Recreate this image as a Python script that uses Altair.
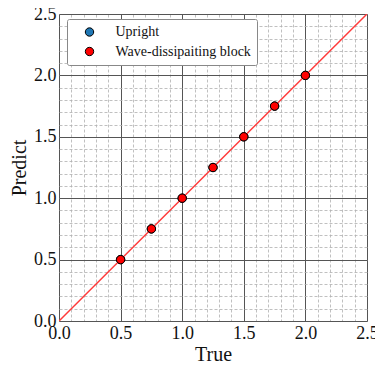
import altair as alt
import pandas as pd

true_vals = [0.5, 0.75, 1.0, 1.25, 1.5, 1.75, 2.0]
upright_pred = [0.5, 0.75, 1.0, 1.25, 1.5, 1.75, 2.0]
wave_pred = [0.5, 0.75, 1.0, 1.25, 1.5, 1.75, 2.0]
series = ["Upright", "Wave-dissipaiting block"]
colors = ["#1f77b4", "#ff0000"]
major_ticks = [0.0, 0.5, 1.0, 1.5, 2.0, 2.5]
minor_ticks = [round(i * 0.1, 1) for i in range(26)]
diag = [0.0, 2.5]

rows = []
for t, p in zip(true_vals, upright_pred):
    rows.append({"True": t, "Predict": p, "Type": series[0]})
for t, p in zip(true_vals, wave_pred):
    rows.append({"True": t, "Predict": p, "Type": series[1]})
pts = pd.DataFrame(rows)
line_df = pd.DataFrame({"True": diag, "Predict": diag})

FONT = "Liberation Serif"
xs = alt.Scale(domain=[0, 2.5], nice=False, zero=False)
ys = alt.Scale(domain=[0, 2.5], nice=False, zero=False)

minor_axis_x = alt.Axis(values=minor_ticks, grid=True, gridColor="#b0b0b0", gridDash=[3, 2],
                        gridWidth=0.8, labels=False, ticks=False, domain=False, title=None, orient="bottom")
minor_axis_y = alt.Axis(values=minor_ticks, grid=True, gridColor="#b0b0b0", gridDash=[3, 2],
                        gridWidth=0.8, labels=False, ticks=False, domain=False, title=None, orient="left")

line = alt.Chart(line_df).mark_line(color="#ff3b3b", strokeWidth=1.5, clip=True).encode(
    x=alt.X("True:Q", scale=xs, axis=minor_axis_x),
    y=alt.Y("Predict:Q", scale=ys, axis=minor_axis_y),
)

major_axis_x = alt.Axis(values=major_ticks, format=".1f", grid=True, gridColor="#555555", gridWidth=1,
                        ticks=False, domain=False, labelFlush=False, labelPadding=3,
                        labelFontSize=18, labelFont=FONT, labelColor="#111",
                        title="True", titleFont=FONT, titleFontSize=20, titleFontWeight="normal",
                        titleColor="#111", titlePadding=2, orient="bottom")
major_axis_y = alt.Axis(values=major_ticks, format=".1f", grid=True, gridColor="#555555", gridWidth=1,
                        ticks=False, domain=False, labelFlush=False, labelPadding=3,
                        labelFontSize=18, labelFont=FONT, labelColor="#111",
                        title="Predict", titleFont=FONT, titleFontSize=20, titleFontWeight="normal",
                        titleColor="#111", titlePadding=4, orient="left")

points = alt.Chart(pts).mark_point(filled=True, size=70, stroke="black", strokeWidth=1, opacity=1).encode(
    x=alt.X("True:Q", scale=xs, axis=major_axis_x),
    y=alt.Y("Predict:Q", scale=ys, axis=major_axis_y),
    color=alt.Color("Type:N", scale=alt.Scale(domain=series, range=colors),
                    legend=alt.Legend(title=None, orient="none", legendX=8, legendY=5,
                                      fillColor="white", strokeColor="#888", padding=6,
                                      symbolOffset=9.5, labelOffset=19, rowPadding=5.5,
                                      labelFont=FONT, labelFontSize=14, labelColor="#111",
                                      symbolSize=70, symbolStrokeColor="black", symbolStrokeWidth=1,
                                      symbolType="circle", cornerRadius=2)),
    order=alt.Order("Type:N"),
)

chart = alt.layer(line, points).resolve_axis(x="independent", y="independent").properties(
    width=308, height=307,
    padding={"left": 51, "top": 6, "right": 8, "bottom": 43},
    autosize=alt.AutoSizeParams(type="none"),
).configure_view(stroke="#444", strokeWidth=1.2).configure(background="white")

chart.save("out.html", embed_options={"renderer": "svg", "actions": False})
